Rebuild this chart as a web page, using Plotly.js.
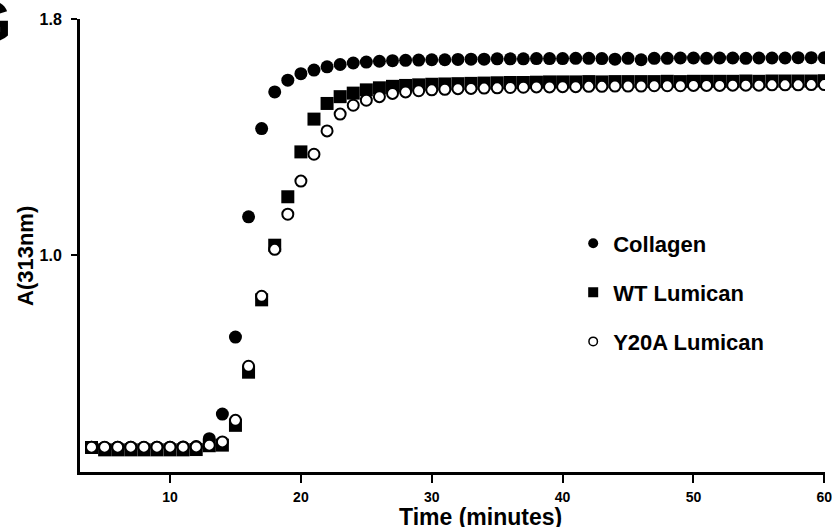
<!DOCTYPE html>
<html>
<head>
<meta charset="utf-8">
<script src="https://cdn.plot.ly/plotly-3.0.1.min.js"></script>
<style>html,body{margin:0;padding:0;background:#fff;}#chart{width:832px;height:527px;}</style>
</head>
<body>
<div id="chart"></div>
<script>
const timeMinutes = [4,5,6,7,8,9,10,11,12,13,14,15,16,17,18,19,20,21,22,23,24,25,26,27,28,29,30,31,32,33,34,35,36,37,38,39,40,41,42,43,44,45,46,47,48,49,50,51,52,53,54,55,56,57,58,59,60];

const collagen = [0.350,0.349,0.350,0.350,0.349,0.350,0.350,0.351,0.352,0.379,0.462,0.723,1.130,1.429,1.553,1.593,1.615,1.627,1.638,1.646,1.651,1.654,1.657,1.659,1.660,1.661,1.662,1.662,1.663,1.664,1.664,1.665,1.665,1.665,1.666,1.666,1.666,1.667,1.667,1.666,1.664,1.667,1.662,1.667,1.667,1.668,1.668,1.667,1.668,1.668,1.667,1.668,1.668,1.668,1.669,1.669,1.669];

const wtLumican = [0.349,0.341,0.341,0.341,0.341,0.341,0.341,0.341,0.342,0.355,0.357,0.424,0.604,0.849,1.034,1.198,1.350,1.461,1.514,1.537,1.549,1.560,1.567,1.572,1.575,1.577,1.579,1.580,1.581,1.582,1.583,1.584,1.585,1.585,1.586,1.587,1.587,1.587,1.588,1.587,1.588,1.588,1.588,1.588,1.589,1.588,1.589,1.589,1.589,1.589,1.590,1.589,1.590,1.590,1.590,1.590,1.591];

const y20aLumican = [0.350,0.350,0.350,0.350,0.350,0.350,0.350,0.350,0.351,0.357,0.368,0.441,0.624,0.861,1.020,1.139,1.251,1.342,1.421,1.478,1.508,1.525,1.537,1.548,1.553,1.557,1.560,1.562,1.564,1.565,1.566,1.567,1.568,1.569,1.570,1.570,1.571,1.571,1.572,1.572,1.573,1.573,1.573,1.574,1.574,1.574,1.575,1.575,1.575,1.576,1.576,1.576,1.577,1.577,1.577,1.578,1.578];

const seriesNames = ['Collagen','WT Lumican','Y20A Lumican'];
const xTickVals = [10,20,30,40,50,60];
const yTickVals = [1.0,1.8];
const yTickText = ['1.0','1.8'];

const FONT = 'Liberation Sans, Arial, sans-serif';

const traces = [
  {x: timeMinutes, y: collagen, type:'scatter', mode:'markers', name: seriesNames[0], showlegend:false,
   marker:{symbol:'circle', size:13, color:'#000', line:{width:0}}},
  {x: timeMinutes, y: wtLumican, type:'scatter', mode:'markers', name: seriesNames[1], showlegend:false,
   marker:{symbol:'square', size:13, color:'#000', line:{width:0}}},
  {x: timeMinutes, y: y20aLumican, type:'scatter', mode:'markers', name: seriesNames[2], showlegend:false,
   marker:{symbol:'circle', size:11, color:'#fff', line:{width:2, color:'#000'}}},
  // legend entries
  {x:[null], y:[null], type:'scatter', mode:'markers', name: seriesNames[0], legendgroup:'a',
   marker:{symbol:'circle', size:10, color:'#000', line:{width:0}}},
  {x:[null], y:[null], type:'scatter', mode:'markers', name: seriesNames[1], legendgroup:'b',
   marker:{symbol:'square', size:10, color:'#000', line:{width:0}}},
  {x:[null], y:[null], type:'scatter', mode:'markers', name: seriesNames[2], legendgroup:'c',
   marker:{symbol:'circle', size:8.5, color:'#fff', line:{width:1.5, color:'#000'}}}
];

const layout = {
  width: 832, height: 527,
  margin: {l:80, r:7, t:19, b:55},
  paper_bgcolor:'#fff', plot_bgcolor:'#fff',
  font: {family: FONT, color:'#000'},
  showlegend: true,
  legend: {x:0.662, xanchor:'left', y:0.551, yanchor:'top', traceorder:'grouped', tracegroupgap:17.5,
           font:{family:FONT, size:22, weight:'bold', color:'#000'}, bgcolor:'rgba(0,0,0,0)', borderwidth:0},
  xaxis: {range:[3.12, 60.05], showgrid:false, zeroline:false, showline:true, linewidth:3, linecolor:'#000',
          ticks:'outside', ticklen:8, tickwidth:2, tickcolor:'#000', tickvals: xTickVals,
          tickfont:{family:FONT, size:14, weight:'bold', color:'#000'}, ticklabelstandoff:2, ticklabeloverflow:'allow'},
  yaxis: {range:[0.266, 1.8], showgrid:false, zeroline:false, showline:true, linewidth:3, linecolor:'#000',
          ticks:'outside', ticklen:6, tickwidth:2, tickcolor:'#000', tickvals: yTickVals, ticktext: yTickText,
          tickfont:{family:FONT, size:16, weight:'bold', color:'#000'}, ticklabelstandoff:6},
  annotations: [
    {text:'A(313nm)', xref:'paper', yref:'paper', x:(25-80)/745, y:(472-256)/453, xanchor:'center', yanchor:'middle',
     textangle:-90, showarrow:false, font:{family:FONT, size:22, weight:'bold', color:'#000'}},
    {text:'Time (minutes)', xref:'paper', yref:'paper', x:(480-80)/745, y:(472-517)/453, xanchor:'center', yanchor:'middle',
     showarrow:false, font:{family:FONT, size:23, weight:'bold', color:'#000'}},
    {text:'G', xref:'paper', yref:'paper', x:(14-80)/745, y:(472-21)/453, xanchor:'right', yanchor:'middle',
     showarrow:false, font:{family:FONT, size:60, weight:'bold', color:'#000'}}
  ]
};

Plotly.newPlot('chart', traces, layout, {displayModeBar:false, staticPlot:true});
</script>
</body>
</html>
